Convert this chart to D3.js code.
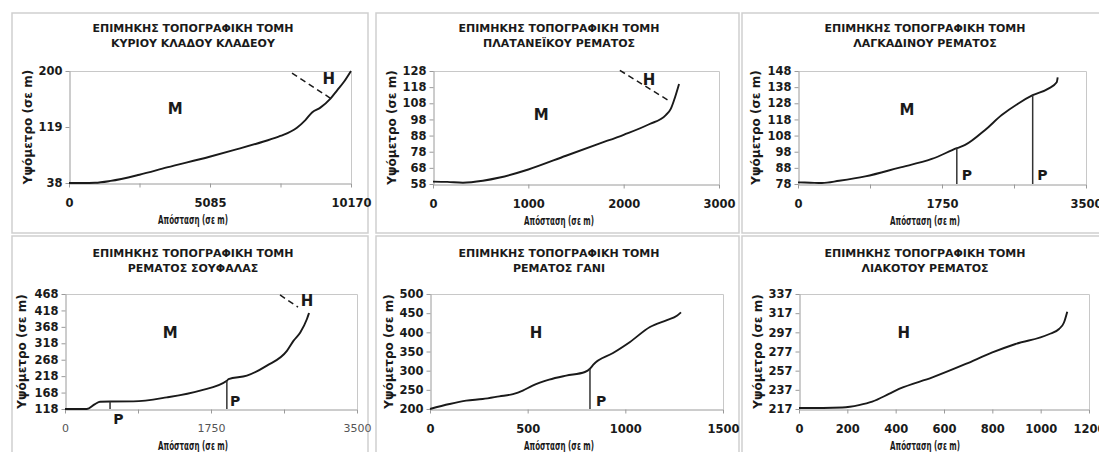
<!DOCTYPE html>
<html>
<head>
<meta charset="utf-8">
<script src="https://cdn.jsdelivr.net/npm/d3@7"></script>
<style>
  body { margin: 0; background: #fff; }
  svg { display: block; font-family: "DejaVu Sans", Verdana, sans-serif; }
</style>
</head>
<body>
<svg id="chart" width="1099" height="452"></svg>
<script>
// seis perfiles longitudinales, valores leidos a ojo de la figura original

var tituloArriba = "ΕΠΙΜΗΚΗΣ ΤΟΠΟΓΡΑΦΙΚΗ ΤΟΜΗ";
var nombres = ["ΚΥΡΙΟΥ ΚΛΑΔΟΥ ΚΛΑΔΕΟΥ", "ΠΛΑΤΑΝΕΪΚΟΥ ΡΕΜΑΤΟΣ", "ΛΑΓΚΑΔΙΝΟΥ ΡΕΜΑΤΟΣ",
              "ΡΕΜΑΤΟΣ ΣΟΥΦΑΛΑΣ", "ΡΕΜΑΤΟΣ ΓΑΝΙ", "ΛΙΑΚΟΤΟΥ ΡΕΜΑΤΟΣ"];
var ejeX = "Απόσταση (σε m)";
var ejeY = "Υψόμετρο (σε m)";

// distancia (m) y altitud (m) de cada cauce
var kladeosDist = [0, 500, 940, 1500, 2540, 3530, 5070, 5935, 7020, 7620, 8220, 8525, 8765, 9065, 9430, 9670, 9910, 10170];
var kladeosElev = [38, 38, 38.3, 41, 50, 60.5, 76, 85.5, 98, 106, 118, 129, 140, 147, 160, 172, 184, 200];

var platanDist = [0, 150, 314, 523, 700, 1000, 1395, 1744, 2000, 2267, 2442, 2494, 2529, 2581];
var platanElev = [59.5, 59.3, 58.8, 60, 62, 67, 75.5, 83, 88.5, 95, 100.7, 104.5, 110, 120];

var lagkDist = [0, 150, 291, 500, 817, 1222, 1626, 1930, 2031, 2274, 2476, 2678, 2852, 3043, 3144, 3156];
var lagkElev = [79, 78.8, 78.6, 80, 82.7, 88, 93.5, 100.2, 102.2, 111.5, 120.7, 127.9, 133, 137.1, 141, 144];

var soufDist = [0, 260, 360, 420, 540, 820, 1220, 1620, 1940, 1960, 2180, 2420, 2660, 2740, 2820, 2900, 2925];
var soufElev = [118, 118, 133, 140, 141, 141.3, 153.5, 174, 204, 209, 219.5, 250, 295, 326, 351, 392, 410];

var ganiDist = [0, 100, 185, 270, 355, 425, 475, 525, 610, 697, 793, 819, 835, 937, 1024, 1126, 1213, 1264, 1285];
var ganiElev = [200, 213, 221.7, 226, 233, 239, 248, 261, 276.5, 287, 296.5, 305, 315, 346, 375, 414, 432, 443, 452];

var liakDist = [0, 100, 179, 248, 303, 372, 414, 552, 690, 800, 896, 1034, 1076, 1096, 1110];
var liakElev = [218, 218, 218.5, 221, 224.6, 232.7, 237.9, 250, 264, 276, 284.8, 295, 300.5, 307, 318.6];

// marcas de los ejes
var kladeosYTicks = [38, 119, 200];
var kladeosXTicks = [0, 5085, 10170];
var platanYTicks = [58, 68, 78, 88, 98, 108, 118, 128];
var platanXTicks = [0, 1000, 2000, 3000];
var lagkYTicks = [78, 88, 98, 108, 118, 128, 138, 148];
var lagkXTicks = [0, 1750, 3500];
var soufYTicks = [118, 168, 218, 268, 318, 368, 418, 468];
var soufXTicks = [0, 1750, 3500];
var ganiYTicks = [200, 250, 300, 350, 400, 450, 500];
var ganiXTicks = [0, 500, 1000, 1500];
var liakYTicks = [217, 237, 257, 277, 297, 317, 337];
var liakXTicks = [0, 200, 400, 600, 800, 1000, 1200];

// cajas de cada panel en la pagina
var cajas = [
  { f: [12, 368, 13, 233], p: [69, 351, 71, 183], cx: 193, ty: 32, yt: 27 },
  { f: [376, 739, 13, 233], p: [433, 719, 71, 184], cx: 559, ty: 32, yt: 391 },
  { f: [742, 1105, 13, 233], p: [798, 1086, 71, 184], cx: 925, ty: 32, yt: 755 },
  { f: [12, 368, 236, 470], p: [65, 357, 294, 409], cx: 193, ty: 257, yt: 21 },
  { f: [376, 739, 236, 470], p: [430, 723, 294, 409], cx: 559, ty: 257, yt: 388 },
  { f: [742, 1105, 236, 470], p: [799, 1089, 294, 409], cx: 925, ty: 257, yt: 757 }
];

var paneles = [
  { dist: kladeosDist, elev: kladeosElev, yt: kladeosYTicks, xt: kladeosXTicks, menores: 2,
    zona: ["M", 3829, 146], alto: ["H", 9367, 189], guion: [[8043, 197], [9451, 160]], rupturas: [] },
  { dist: platanDist, elev: platanElev, yt: platanYTicks, xt: platanXTicks, menores: 1,
    zona: ["M", 1134, 100.7], alto: ["H", 2267, 122.9], guion: [[1960, 128.4], [2494, 108.9]], rupturas: [] },
  { dist: lagkDist, elev: lagkElev, yt: lagkYTicks, xt: lagkXTicks, menores: 2,
    zona: ["M", 1323, 123.8], rupturas: [[1930, 100.2, 2051, 83.7], [2852, 133, 2970, 83.7]] },
  { dist: soufDist, elev: soufElev, yt: soufYTicks, xt: soufXTicks, menores: 2, fina: true,
    zona: ["M", 1260, 351], alto: ["H", 2900, 447], guion: [[2577, 465], [2793, 428]],
    rupturas: [[540, 141, 640, 88], [1940, 204, 2040, 143]] },
  { dist: ganiDist, elev: ganiElev, yt: ganiYTicks, xt: ganiXTicks, menores: 1,
    zona: ["H", 543, 400], rupturas: [[819, 305, 876, 222]] },
  { dist: liakDist, elev: liakElev, yt: liakYTicks, xt: liakXTicks, menores: 1,
    zona: ["H", 434, 297], rupturas: [] }
];

var svg = d3.select("#chart");
var GRIS_MARCO = "#cfcfcf";
var GRIS_EJE = "#9a9a9a";
var TINTA = "#1a1a1a";

paneles.forEach(function (d, i) {
  var c = cajas[i];
  var g = svg.append("g");

  g.append("rect")
    .attr("x", c.f[0]).attr("y", c.f[2])
    .attr("width", c.f[1] - c.f[0]).attr("height", c.f[3] - c.f[2])
    .attr("fill", "#fff").attr("stroke", GRIS_MARCO).attr("stroke-width", 1.5);

  var x = d3.scaleLinear().domain([d.xt[0], d.xt[d.xt.length - 1]]).range([c.p[0], c.p[1]]);
  var y = d3.scaleLinear().domain([d.yt[0], d.yt[d.yt.length - 1]]).range([c.p[3], c.p[2]]);

  // borde del area de trazado (arriba y derecha)
  g.append("path")
    .attr("d", "M" + c.p[0] + "," + (c.p[2] + 0.5) + "H" + (c.p[1] + 0.5) + "V" + c.p[3])
    .attr("fill", "none").attr("stroke", "#c8c8c8");

  // marcas en x, con intermedias donde el original las tiene
  var paso = (d.xt[1] - d.xt[0]) / d.menores;
  var marcasX = d3.range(0, (d.xt.length - 1) * d.menores + 1).map(function (k) { return d.xt[0] + k * paso; });

  var axX = g.append("g")
    .attr("transform", "translate(0," + (c.p[3] + 0.5) + ")")
    .call(d3.axisBottom(x).tickValues(marcasX).tickSize(4).tickSizeOuter(0).tickPadding(11)
      .tickFormat(function (v) { return d.xt.indexOf(v) >= 0 ? v : ""; }));
  axX.selectAll("path, line").attr("stroke", GRIS_EJE);
  axX.selectAll("text")
    .attr("font-size", d.fina ? 11 : 11.5)
    .attr("font-weight", d.fina ? "normal" : "bold")
    .attr("fill", d.fina ? "#555" : TINTA)
    .attr("font-family", "DejaVu Sans, Verdana, sans-serif");

  var axY = g.append("g")
    .attr("transform", "translate(" + (c.p[0] + 0.5) + ",0)")
    .call(d3.axisLeft(y).tickValues(d.yt).tickSize(4).tickSizeOuter(0).tickPadding(3));
  axY.selectAll("path, line").attr("stroke", GRIS_EJE);
  axY.selectAll("text")
    .attr("font-size", 11.5).attr("font-weight", "bold").attr("fill", TINTA)
    .attr("font-family", "DejaVu Sans, Verdana, sans-serif");

  // titulos
  g.append("text").attr("x", c.cx).attr("y", c.ty).attr("text-anchor", "middle")
    .attr("font-size", 11).attr("font-weight", "bold").attr("fill", TINTA).text(tituloArriba);
  g.append("text").attr("x", c.cx).attr("y", c.ty + 15).attr("text-anchor", "middle")
    .attr("font-size", 11).attr("font-weight", "bold").attr("fill", TINTA).text(nombres[i]);

  g.append("text").attr("x", c.cx).attr("y", c.p[3] + 41).attr("text-anchor", "middle")
    .attr("font-size", 11.5).attr("font-weight", "bold").attr("fill", TINTA)
    .attr("textLength", 70).attr("lengthAdjust", "spacingAndGlyphs").text(ejeX);

  g.append("text")
    .attr("transform", "translate(" + (c.yt + 4.5) + "," + ((c.p[2] + c.p[3]) / 2) + ") rotate(-90)")
    .attr("text-anchor", "middle")
    .attr("font-size", 12).attr("font-weight", "bold").attr("fill", TINTA).text(ejeY);

  // perfil
  var linea = d3.line()
    .x(function (k) { return x(d.dist[k]); })
    .y(function (k) { return y(d.elev[k]); })
    .curve(d3.curveMonotoneX);
  g.append("path")
    .attr("d", linea(d3.range(d.dist.length)))
    .attr("fill", "none").attr("stroke", TINTA).attr("stroke-width", 1.9);

  // rupturas de pendiente (P)
  d.rupturas.forEach(function (r) {
    g.append("line")
      .attr("x1", x(r[0])).attr("x2", x(r[0]))
      .attr("y1", y(r[1])).attr("y2", c.p[3])
      .attr("stroke", "#333").attr("stroke-width", 1.5);
    g.append("text").attr("x", x(r[2])).attr("y", y(r[3])).attr("dy", "0.36em")
      .attr("text-anchor", "middle").attr("font-size", 14).attr("font-weight", "bold")
      .attr("fill", TINTA).text("P");
  });

  // limite de zona con guiones
  if (d.guion) {
    g.append("line")
      .attr("x1", x(d.guion[0][0])).attr("y1", y(d.guion[0][1]))
      .attr("x2", x(d.guion[1][0])).attr("y2", y(d.guion[1][1]))
      .attr("stroke", TINTA).attr("stroke-width", 1.5).attr("stroke-dasharray", "6,4");
  }

  [d.zona, d.alto].forEach(function (e) {
    if (!e) return;
    g.append("text").attr("x", x(e[1])).attr("y", y(e[2])).attr("dy", "0.36em")
      .attr("text-anchor", "middle").attr("font-size", 15).attr("font-weight", "bold")
      .attr("fill", TINTA).text(e[0]);
  });
});
</script>
</body>
</html>
